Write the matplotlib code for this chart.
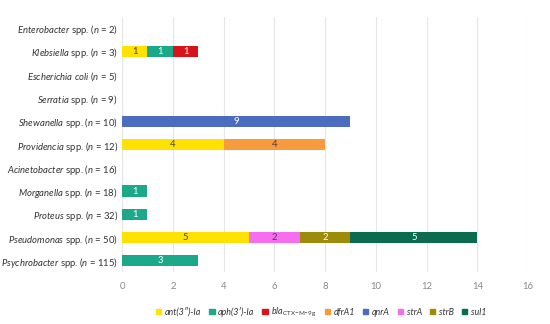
import numpy as np
import matplotlib.pyplot as plt
from matplotlib.patches import Patch

plt.rcParams['font.family'] = 'Lato'
plt.rcParams['mathtext.fontset'] = 'custom'
plt.rcParams['mathtext.rm'] = 'Lato'
plt.rcParams['mathtext.it'] = 'Lato:italic'

genera = ["Enterobacter", "Klebsiella", "Escherichia coli", "Serratia", "Shewanella",
          "Providencia", "Acinetobacter", "Morganella", "Proteus", "Pseudomonas",
          "Psychrobacter"]
has_spp = [True, True, False, True, True, True, True, True, True, True, True]
n_isolates = [2, 3, 5, 9, 10, 12, 16, 18, 32, 50, 115]

genes = ["ant(3\u2033)-Ia", "aph(3\u2032)-Ia", "bla", "dfrA1", "qnrA", "strA", "strB", "sul1"]
ant = [0, 1, 0, 0, 0, 4, 0, 0, 0, 5, 0]
aph = [0, 1, 0, 0, 0, 0, 0, 1, 1, 0, 3]
bla = [0, 1, 0, 0, 0, 0, 0, 0, 0, 0, 0]
dfr = [0, 0, 0, 0, 0, 4, 0, 0, 0, 0, 0]
qnr = [0, 0, 0, 0, 9, 0, 0, 0, 0, 0, 0]
strA = [0, 0, 0, 0, 0, 0, 0, 0, 0, 2, 0]
strB = [0, 0, 0, 0, 0, 0, 0, 0, 0, 2, 0]
sul = [0, 0, 0, 0, 0, 0, 0, 0, 0, 5, 0]
series = [ant, aph, bla, dfr, qnr, strA, strB, sul]

colors = ["#FFE200", "#1BA98A", "#D7141A", "#F99A3E", "#4C6CC0", "#F56EF0", "#9C8C0A", "#0B6B4E"]
text_colors = ["#444444", "white", "white", "#444444", "white", "#444444", "white", "white"]

labels = []
for g, s, n in zip(genera, has_spp, n_isolates):
    g_tex = r"\mathit{" + g.replace(" ", r"\ ") + "}"
    lab = "$" + g_tex + "$" + (" spp." if s else "") + " ($\\mathit{n}$ = %d)" % n
    labels.append(lab)

fig, ax = plt.subplots(figsize=(5.5, 3.24), dpi=100)
fig.subplots_adjust(left=0.222, right=0.96, top=0.949, bottom=0.159)

y = np.arange(len(genera))
left = np.zeros(len(genera))
for vals, c, tc in zip(series, colors, text_colors):
    vals = np.array(vals)
    bars = ax.barh(y, vals, left=left, height=0.48, color=c, zorder=3)
    for b, v in zip(bars, vals):
        if v > 0:
            ax.text(b.get_x() + b.get_width() / 2, b.get_y() + b.get_height() / 2, str(v),
                    ha='center', va='center', fontsize=6.8, color=tc, zorder=4)
    left += vals

ax.set_yticks(y)
ax.set_yticklabels(labels, fontsize=6.8, color="#333333")
ax.invert_yaxis()
ax.set_ylim(len(genera) - 0.5, -0.5)
ax.set_xlim(0, 16)
ax.set_xticks(np.arange(0, 17, 2))
ax.tick_params(axis='x', labelsize=6.8, colors="#888888", length=0, pad=7)
ax.tick_params(axis='y', length=0, pad=3)
ax.grid(axis='x', color="#E6E6E6", linewidth=0.8, zorder=0)
for sp in ax.spines.values():
    sp.set_visible(False)

legend_labels = [genes[0], genes[1], r"$\mathit{bla}_{\mathrm{CTX\!-\!M\!-\!9g}}$"] + genes[3:]
handles = [Patch(color=c) for c in colors]
leg = ax.legend(handles, legend_labels, loc='upper center', bbox_to_anchor=(0.49, -0.1),
                ncol=8, frameon=False, handlelength=0.6, handleheight=0.6,
                handletextpad=0.4, columnspacing=0.9,
                prop={'size': 6.4, 'style': 'italic'})
for t in leg.get_texts():
    t.set_color("#333333")

fig.savefig("out.png", dpi=100)
